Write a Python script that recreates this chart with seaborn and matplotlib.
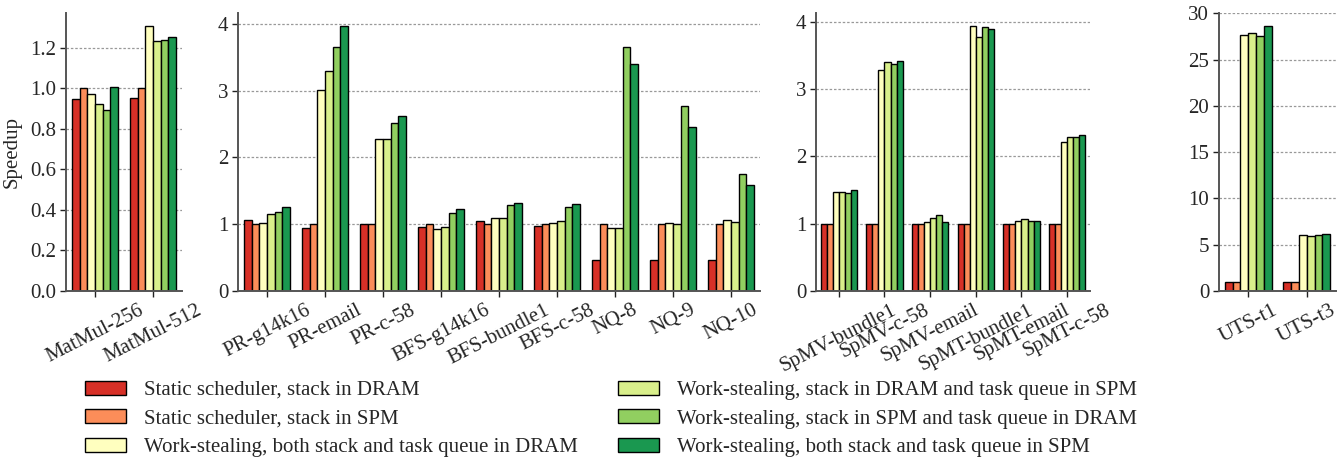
import matplotlib
matplotlib.use("Agg")
import matplotlib.pyplot as plt
from matplotlib.patches import Patch
import seaborn as sns
import pandas as pd

# Scheduler / memory placement configurations
configs = [
    "Static scheduler, stack in DRAM",
    "Static scheduler, stack in SPM",
    "Work-stealing, both stack and task queue in DRAM",
    "Work-stealing, stack in DRAM and task queue in SPM",
    "Work-stealing, stack in SPM and task queue in DRAM",
    "Work-stealing, both stack and task queue in SPM",
]
colors = ["#d73027", "#fc8d59", "#ffffbf", "#d9ef8b", "#91cf60", "#1a9850"]

# Panel 1: dense kernels
bench_mm = ["MatMul-256", "MatMul-512"]
speedup_mm = [
    [0.944, 1.000, 0.970, 0.921, 0.893, 1.005],
    [0.952, 1.000, 1.305, 1.231, 1.236, 1.250],
]

# Panel 2: graph and search kernels
bench_graph = ["PR-g14k16", "PR-email", "PR-c-58", "BFS-g14k16", "BFS-bundle1",
               "BFS-c-58", "NQ-8", "NQ-9", "NQ-10"]
speedup_graph = [
    [1.058, 1.000, 1.023, 1.158, 1.178, 1.253],
    [0.947, 1.000, 3.013, 3.288, 3.659, 3.965],
    [1.000, 1.000, 2.276, 2.276, 2.511, 2.622],
    [0.952, 1.000, 0.922, 0.962, 1.163, 1.223],
    [1.043, 1.000, 1.098, 1.088, 1.283, 1.323],
    [0.967, 1.000, 1.018, 1.043, 1.258, 1.308],
    [0.471, 1.000, 0.937, 0.937, 3.659, 3.398],
    [0.471, 1.000, 1.023, 1.003, 2.772, 2.461],
    [0.471, 1.000, 1.058, 1.028, 1.749, 1.589],
]

# Panel 3: sparse kernels
bench_sparse = ["SpMV-bundle1", "SpMV-c-58", "SpMV-email", "SpMT-bundle1",
                "SpMT-email", "SpMT-c-58"]
speedup_sparse = [
    [1.000, 1.000, 1.468, 1.478, 1.463, 1.507],
    [1.000, 1.000, 3.289, 3.403, 3.378, 3.413],
    [1.000, 1.000, 1.020, 1.080, 1.124, 1.020],
    [1.000, 1.000, 3.935, 3.781, 3.925, 3.900],
    [1.000, 1.000, 1.035, 1.070, 1.045, 1.045],
    [1.000, 1.000, 2.210, 2.285, 2.295, 2.315],
]

# Panel 4: unbalanced tree search
bench_uts = ["UTS-t1", "UTS-t3"]
speedup_uts = [
    [1.000, 1.000, 27.66, 27.88, 27.51, 28.60],
    [1.000, 1.000, 6.00, 5.97, 6.07, 6.11],
]

panels = [
    (bench_mm, speedup_mm, [0.0, 0.2, 0.4, 0.6, 0.8, 1.0, 1.2], "{:.1f}"),
    (bench_graph, speedup_graph, [0, 1, 2, 3, 4], "{:d}"),
    (bench_sparse, speedup_sparse, [0, 1, 2, 3, 4], "{:d}"),
    (bench_uts, speedup_uts, [0, 5, 10, 15, 20, 25, 30], "{:d}"),
]

sns.set_style("ticks")
plt.rcParams["font.family"] = ["Liberation Serif", "DejaVu Serif"]
FS = 15
plt.rcParams["font.size"] = FS

W, H = 1344, 461
fig = plt.figure(figsize=(W / 100, H / 100), dpi=100)

# axes extents in pixels (left, right)
extents = [(66, 182), (238, 760), (816, 1090), (1219, 1336)]
top_px, bottom_px = 13, 291

for (bench, vals, yt, fmt), (x0, x1) in zip(panels, extents):
    ax = fig.add_axes([x0 / W, 1 - bottom_px / H, (x1 - x0) / W, (bottom_px - top_px) / H])
    rows = []
    for b, v in zip(bench, vals):
        for c, s in zip(configs, v):
            rows.append({"bench": b, "config": c, "speedup": s})
    df = pd.DataFrame(rows)
    sns.barplot(data=df, x="bench", y="speedup", hue="config", hue_order=configs,
                order=bench, palette=colors, saturation=1, edgecolor="black",
                linewidth=1, errorbar=None, legend=False, ax=ax)
    ax.set_xlabel("")
    ax.set_ylabel("")
    ax.set_yticks(yt)
    ax.set_yticklabels([fmt.format(t) for t in yt])
    ax.yaxis.grid(True, linestyle=(0, (2, 1.5)), color="#999999", linewidth=0.9)
    ax.set_axisbelow(True)
    for side in ("top", "right"):
        ax.spines[side].set_visible(False)
    for side in ("left", "bottom"):
        ax.spines[side].set_color("#555555")
        ax.spines[side].set_linewidth(1.4)
    ax.tick_params(axis="both", length=4, width=1, color="#222222", labelsize=FS, pad=3)
    plt.setp(ax.get_xticklabels(), rotation=27)
    if x0 == 66:
        ax.set_ylabel("Speedup", fontsize=FS, labelpad=6)

handles = [Patch(facecolor=c, edgecolor="black", linewidth=1, label=l)
           for c, l in zip(colors, configs)]
fig.legend(handles=handles, ncol=2, loc="upper left",
           bbox_to_anchor=(66 / W, 1 - 362 / H), frameon=False, fontsize=FS,
           handlelength=2.0, handleheight=0.65, handletextpad=0.85,
           columnspacing=1.9, labelspacing=0.45)

fig.savefig("out.png", dpi=100)
